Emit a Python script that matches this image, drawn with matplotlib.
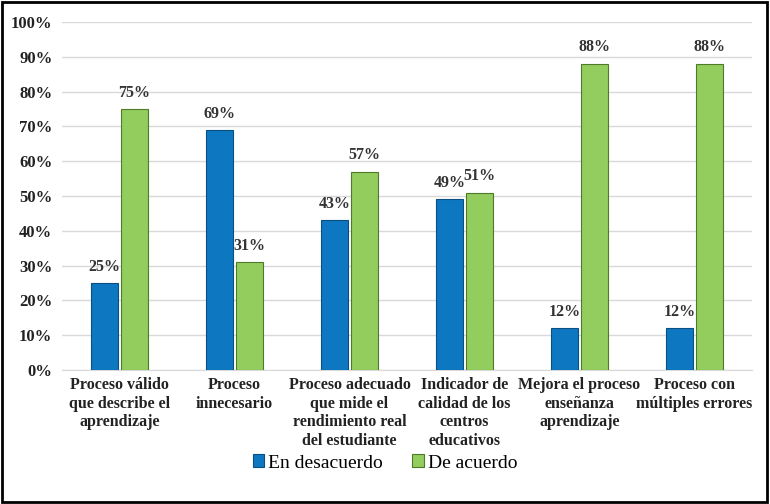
import matplotlib
matplotlib.use("Agg")
import matplotlib.pyplot as plt
import numpy as np
from matplotlib.patches import Rectangle

categories = [
    "Proceso válido\nque describe el\naprendizaje",
    "Proceso\ninnecesario",
    "Proceso adecuado\nque mide el\nrendimiento real\ndel estudiante",
    "Indicador de\ncalidad de los\ncentros\neducativos",
    "Mejora el proceso\nenseñanza\naprendizaje",
    "Proceso con\nmúltiples errores",
]
desacuerdo = [25, 69, 43, 49, 12, 12]
acuerdo = [75, 31, 57, 51, 88, 88]
series_names = ["En desacuerdo", "De acuerdo"]
yticks = [0, 10, 20, 30, 40, 50, 60, 70, 80, 90, 100]

plt.rcParams['font.family'] = ['Liberation Serif', 'DejaVu Serif']

fig = plt.figure(figsize=(7.7, 5.04), dpi=100)
ax = fig.add_axes([0.0805, 0.2659, 0.896, 0.6904])

x = np.arange(len(categories))
w = 0.23
gap = 0.03
blue = "#0E77C2"
green = "#92CD5D"
b1 = ax.bar(x - (w + gap) / 2, desacuerdo, w, color=blue, edgecolor="#0A4F80", linewidth=0.8,
            label=series_names[0], zorder=3)
b2 = ax.bar(x + (w + gap) / 2, acuerdo, w, color=green, edgecolor="#4E7A2A", linewidth=0.8,
            label=series_names[1], zorder=3)

for bars, vals in ((b1, desacuerdo), (b2, acuerdo)):
    for r, v in zip(bars, vals):
        ax.annotate(f"{v}%", (r.get_x() + r.get_width() / 2, v), xytext=(0, 6),
                    textcoords="offset points", ha="center", va="bottom",
                    fontsize=11.5, fontweight="bold", color="#333333")

ax.set_xlim(-0.5, len(categories) - 0.5)
ax.set_ylim(0, 100)
ax.set_yticks(yticks)
ax.set_yticklabels([f"{t}%" for t in yticks], fontsize=12, fontweight="bold", color="#222222")
ax.set_xticks(x)
ax.set_xticklabels(categories, fontsize=11.5, fontweight="bold", linespacing=1.22, color="#222222")
ax.tick_params(axis="x", length=0, pad=5)
ax.tick_params(axis="y", length=0, pad=7)
ax.grid(axis="y", color="#D9D9D9", linewidth=1, zorder=0)
for s in ("top", "right", "left"):
    ax.spines[s].set_visible(False)
ax.spines["bottom"].set_color("#D9D9D9")

leg = fig.legend(handles=[b1, b2], labels=series_names, loc="center",
                 bbox_to_anchor=(0.5, 1 - 463 / 504), ncol=2, frameon=False,
                 fontsize=14, handlelength=0.6, handleheight=0.6, handletextpad=0.2,
                 columnspacing=1.5)

fig.patches.append(Rectangle((0.002, 0.004), 0.994, 0.992, transform=fig.transFigure,
                             fill=False, edgecolor="black", linewidth=2))

fig.savefig("out.png", dpi=100)
